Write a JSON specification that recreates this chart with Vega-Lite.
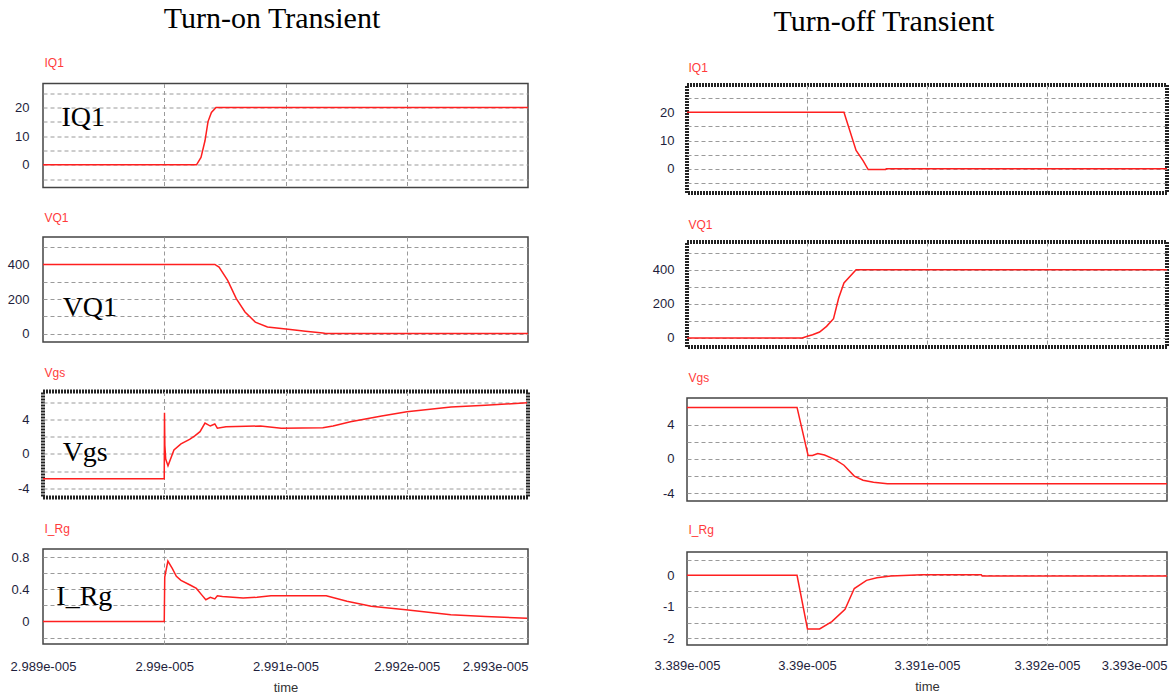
{
  "$schema": "https://vega.github.io/schema/vega-lite/v6.json",
  "background": "white",
  "padding": {"left": 6, "top": 4, "right": 2, "bottom": 0},
  "config": {
    "view": {"stroke": "#444", "strokeWidth": 1.5},
    "axis": {"labelFont": "Liberation Sans", "labelFontSize": 13, "labelColor": "#1e1e3c", "gridColor": "#9a9a9a", "gridDash": [4, 3], "gridWidth": 1, "ticks": false, "domain": false, "labelOverlap": false, "labelFlush": false},
    "axisX": {"titleFont": "Liberation Sans", "titleFontWeight": "normal", "titleFontSize": 13, "titleColor": "#333"},
    "axisY": {"titleFont": "Liberation Sans", "titleFontWeight": "normal", "titleFontSize": 12, "titleColor": "#ff3b3b", "titleAngle": 0, "titleAlign": "left", "titleBaseline": "alphabetic", "titleX": 1},
    "title": {"font": "Liberation Serif", "fontSize": 30, "color": "black", "anchor": "middle", "fontWeight": "normal", "frame": "group"},
    "line": {"color": "#ff1f1f", "strokeWidth": 1.5},
    "text": {"font": "Liberation Serif", "fontSize": 28, "align": "left", "baseline": "alphabetic", "color": "black"}
  },
  "datasets": {
    "on_iq1": [
      {"t": 2.989e-5, "v": 0}, {"t": 2.990266e-5, "v": 0}, {"t": 2.990303e-5, "v": 2.6}, {"t": 2.990336e-5, "v": 8.4},
      {"t": 2.990361e-5, "v": 15.1}, {"t": 2.990389e-5, "v": 18.3}, {"t": 2.990427e-5, "v": 20}, {"t": 2.993e-5, "v": 20}
    ],
    "on_vq1": [
      {"t": 2.989e-5, "v": 400}, {"t": 2.990417e-5, "v": 400}, {"t": 2.990452e-5, "v": 384}, {"t": 2.990523e-5, "v": 308},
      {"t": 2.990594e-5, "v": 202}, {"t": 2.990666e-5, "v": 125}, {"t": 2.990751e-5, "v": 67}, {"t": 2.990851e-5, "v": 39},
      {"t": 2.991022e-5, "v": 25}, {"t": 2.991165e-5, "v": 14}, {"t": 2.991308e-5, "v": 4}, {"t": 2.99133e-5, "v": 0.5},
      {"t": 2.993e-5, "v": 0.5}
    ],
    "on_vgs": [
      {"t": 2.989e-5, "v": -2.9}, {"t": 2.99e-5, "v": -2.9}, {"t": 2.990002e-5, "v": 4.8}, {"t": 2.990005e-5, "v": 1.0},
      {"t": 2.990012e-5, "v": -0.6}, {"t": 2.990031e-5, "v": -1.4}, {"t": 2.99008e-5, "v": 0.47}, {"t": 2.990138e-5, "v": 1.17},
      {"t": 2.990209e-5, "v": 1.7}, {"t": 2.990252e-5, "v": 2.1}, {"t": 2.990295e-5, "v": 2.6}, {"t": 2.990336e-5, "v": 3.6},
      {"t": 2.99038e-5, "v": 3.26}, {"t": 2.990417e-5, "v": 3.5}, {"t": 2.990438e-5, "v": 3.0}, {"t": 2.990509e-5, "v": 3.18},
      {"t": 2.990794e-5, "v": 3.26}, {"t": 2.990965e-5, "v": 3.0}, {"t": 2.991308e-5, "v": 3.07}, {"t": 2.991392e-5, "v": 3.26},
      {"t": 2.991536e-5, "v": 3.77}, {"t": 2.991793e-5, "v": 4.43}, {"t": 2.992001e-5, "v": 4.93}, {"t": 2.992365e-5, "v": 5.5},
      {"t": 2.992649e-5, "v": 5.7}, {"t": 2.992992e-5, "v": 5.98}
    ],
    "on_irg": [
      {"t": 2.989e-5, "v": 0}, {"t": 2.99e-5, "v": 0}, {"t": 2.990004e-5, "v": 0.55}, {"t": 2.99003e-5, "v": 0.75},
      {"t": 2.990066e-5, "v": 0.66}, {"t": 2.9901e-5, "v": 0.56}, {"t": 2.990138e-5, "v": 0.51}, {"t": 2.990209e-5, "v": 0.456},
      {"t": 2.990265e-5, "v": 0.41}, {"t": 2.990309e-5, "v": 0.33}, {"t": 2.990343e-5, "v": 0.27}, {"t": 2.99038e-5, "v": 0.30},
      {"t": 2.990417e-5, "v": 0.28}, {"t": 2.990438e-5, "v": 0.32}, {"t": 2.99048e-5, "v": 0.31}, {"t": 2.990651e-5, "v": 0.29},
      {"t": 2.990765e-5, "v": 0.30}, {"t": 2.99088e-5, "v": 0.32}, {"t": 2.991336e-5, "v": 0.32}, {"t": 2.991507e-5, "v": 0.25},
      {"t": 2.991707e-5, "v": 0.19}, {"t": 2.991992e-5, "v": 0.145}, {"t": 2.992363e-5, "v": 0.083}, {"t": 2.992649e-5, "v": 0.062},
      {"t": 2.992992e-5, "v": 0.04}
    ],
    "off_iq1": [
      {"t": 3.389e-5, "v": 20}, {"t": 3.390308e-5, "v": 20}, {"t": 3.390409e-5, "v": 6.5}, {"t": 3.390467e-5, "v": 2.9},
      {"t": 3.39051e-5, "v": -0.3}, {"t": 3.390655e-5, "v": -0.3}, {"t": 3.39066e-5, "v": 0}, {"t": 3.393e-5, "v": 0}
    ],
    "off_vq1": [
      {"t": 3.389e-5, "v": 0}, {"t": 3.38996e-5, "v": 0}, {"t": 3.390004e-5, "v": 10}, {"t": 3.390046e-5, "v": 19},
      {"t": 3.390105e-5, "v": 35}, {"t": 3.390163e-5, "v": 68}, {"t": 3.390221e-5, "v": 113}, {"t": 3.390264e-5, "v": 234},
      {"t": 3.390308e-5, "v": 322}, {"t": 3.390409e-5, "v": 400}, {"t": 3.393e-5, "v": 400}
    ],
    "off_vgs": [
      {"t": 3.389e-5, "v": 6.0}, {"t": 3.389917e-5, "v": 6.0}, {"t": 3.390009e-5, "v": 0.4}, {"t": 3.390046e-5, "v": 0.4},
      {"t": 3.39009e-5, "v": 0.63}, {"t": 3.390146e-5, "v": 0.45}, {"t": 3.390235e-5, "v": -0.07}, {"t": 3.390308e-5, "v": -0.73},
      {"t": 3.390394e-5, "v": -2.0}, {"t": 3.390467e-5, "v": -2.48}, {"t": 3.390554e-5, "v": -2.71}, {"t": 3.39067e-5, "v": -2.9},
      {"t": 3.393e-5, "v": -2.9}
    ],
    "off_irg": [
      {"t": 3.389e-5, "v": 0}, {"t": 3.389917e-5, "v": 0}, {"t": 3.390004e-5, "v": -1.70}, {"t": 3.390105e-5, "v": -1.70},
      {"t": 3.390207e-5, "v": -1.47}, {"t": 3.390317e-5, "v": -1.08}, {"t": 3.390394e-5, "v": -0.42}, {"t": 3.390496e-5, "v": -0.16},
      {"t": 3.390582e-5, "v": -0.08}, {"t": 3.390699e-5, "v": -0.02}, {"t": 3.390958e-5, "v": 0.02}, {"t": 3.391452e-5, "v": 0.02},
      {"t": 3.39146e-5, "v": -0.02}, {"t": 3.393e-5, "v": -0.02}
    ]
  },
  "hconcat": [
    {
      "spacing": 21.5,
      "vconcat": [
        {
          "title": {"text": "Turn-on Transient", "dx": -13.5, "offset": -13},
          "width": 485, "height": 0.5,
          "view": {"stroke": null},
          "data": {"values": []},
          "mark": "point",
          "encoding": {}
        },
        {
          "width": 485, "height": 104,
          "encoding": {
            "x": {"field": "t", "type": "quantitative", "scale": {"domain": [2.989e-5, 2.993e-5], "nice": false, "zero": false}, "axis": {"values": [2.99e-5, 2.991e-5, 2.992e-5], "labels": false, "title": null, "grid": true}},
            "y": {"field": "v", "type": "quantitative", "scale": {"domain": [-7.9, 28.4], "nice": false, "zero": false}, "axis": {"values": [-5, 0, 5, 10, 15, 20, 25], "labelExpr": "datum.value % 10 == 0 ? '' + datum.value : ''", "title": "IQ1", "titleY": -16.7, "grid": true, "labelPadding": 14}}
          },
          "layer": [
            {"data": {"name": "on_iq1"}, "mark": "line"},
            {"data": {"values": [{"t": 2.989152e-5, "v": 13.6, "label": "IQ1"}]}, "mark": "text", "encoding": {"text": {"field": "label"}}}
          ]
        },
        {
          "width": 485, "height": 105,
          "encoding": {
            "x": {"field": "t", "type": "quantitative", "scale": {"domain": [2.989e-5, 2.993e-5], "nice": false, "zero": false}, "axis": {"values": [2.99e-5, 2.991e-5, 2.992e-5], "labels": false, "title": null, "grid": true}},
            "y": {"field": "v", "type": "quantitative", "scale": {"domain": [-48, 558], "nice": false, "zero": false}, "axis": {"values": [0, 100, 200, 300, 400, 500], "labelExpr": "datum.value % 200 == 0 ? '' + datum.value : ''", "title": "VQ1", "titleY": -15.7, "grid": true, "labelPadding": 14}}
          },
          "layer": [
            {"data": {"name": "on_vq1"}, "mark": "line"},
            {"data": {"values": [{"t": 2.989162e-5, "v": 104, "label": "VQ1"}]}, "mark": "text", "encoding": {"text": {"field": "label"}}}
          ]
        },
        {
          "width": 485, "height": 106,
          "view": {"stroke": "#222", "strokeWidth": 4, "strokeDash": [2, 1]},
          "encoding": {
            "x": {"field": "t", "type": "quantitative", "scale": {"domain": [2.989e-5, 2.993e-5], "nice": false, "zero": false}, "axis": {"values": [2.99e-5, 2.991e-5, 2.992e-5], "labels": false, "title": null, "grid": true}},
            "y": {"field": "v", "type": "quantitative", "scale": {"domain": [-5.1, 7.3], "nice": false, "zero": false}, "axis": {"values": [-4, -2, 0, 2, 4, 6], "labelExpr": "datum.value % 4 == 0 ? '' + datum.value : ''", "title": "Vgs", "titleY": -15, "grid": true, "labelPadding": 14}}
          },
          "layer": [
            {"data": {"name": "on_vgs"}, "mark": "line"},
            {"data": {"values": [{"t": 2.989162e-5, "v": -0.8, "label": "Vgs"}]}, "mark": "text", "encoding": {"text": {"field": "label"}}}
          ]
        },
        {
          "width": 485, "height": 95,
          "encoding": {
            "x": {"field": "t", "type": "quantitative", "scale": {"domain": [2.989e-5, 2.993e-5], "nice": false, "zero": false},
                  "axis": {"values": [2.989e-5, 2.99e-5, 2.991e-5, 2.992e-5, 2.993e-5], "labelExpr": "replace(format(datum.value, '.4~e'), 'e-5', 'e-005')", "title": "time", "grid": true, "labelPadding": 16.5, "titlePadding": 8,
                           "labelAlign": {"condition": {"test": "datum.value > 2.9925e-5", "value": "right"}, "value": "center"},
                           "gridOpacity": {"condition": {"test": "datum.value < 2.9895e-5 || datum.value > 2.9925e-5", "value": 0}, "value": 1}}},
            "y": {"field": "v", "type": "quantitative", "scale": {"domain": [-0.28, 0.9], "nice": false, "zero": false}, "axis": {"values": [-0.2, 0, 0.2, 0.4, 0.6, 0.8], "labelExpr": "indexof([0, 0.4, 0.8], datum.value) >= 0 ? '' + datum.value : ''", "title": "I_Rg", "titleY": -16.7, "grid": true, "labelPadding": 14}}
          },
          "layer": [
            {"data": {"name": "on_irg"}, "mark": "line"},
            {"data": {"values": [{"t": 2.98911e-5, "v": 0.21, "label": "I_Rg"}]}, "mark": "text", "encoding": {"text": {"field": "label"}}}
          ]
        }
      ]
    },
    {
      "spacing": 21,
      "vconcat": [
        {
          "title": {"text": "Turn-off Transient", "dx": -43, "offset": -16},
          "width": 480, "height": 16.5,
          "view": {"stroke": null},
          "data": {"values": []},
          "mark": "point",
          "encoding": {}
        },
        {
          "width": 480, "height": 108,
          "view": {"stroke": "#222", "strokeWidth": 4, "strokeDash": [2, 1]},
          "data": {"name": "off_iq1"}, "mark": "line",
          "encoding": {
            "x": {"field": "t", "type": "quantitative", "scale": {"domain": [3.389e-5, 3.393e-5], "nice": false, "zero": false}, "axis": {"values": [3.39e-5, 3.391e-5, 3.392e-5], "labels": false, "title": null, "grid": true}},
            "y": {"field": "v", "type": "quantitative", "scale": {"domain": [-8.6, 29.7], "nice": false, "zero": false}, "axis": {"values": [-5, 0, 5, 10, 15, 20, 25], "labelExpr": "datum.value % 10 == 0 ? '' + datum.value : ''", "title": "IQ1", "titleY": -13.3, "grid": true, "labelPadding": 13}}
          }
        },
        {
          "width": 480, "height": 105,
          "view": {"stroke": "#222", "strokeWidth": 4, "strokeDash": [2, 1]},
          "data": {"name": "off_vq1"}, "mark": "line",
          "encoding": {
            "x": {"field": "t", "type": "quantitative", "scale": {"domain": [3.389e-5, 3.393e-5], "nice": false, "zero": false}, "axis": {"values": [3.39e-5, 3.391e-5, 3.392e-5], "labels": false, "title": null, "grid": true}},
            "y": {"field": "v", "type": "quantitative", "scale": {"domain": [-53, 562], "nice": false, "zero": false}, "axis": {"values": [0, 100, 200, 300, 400, 500], "labelExpr": "datum.value % 200 == 0 ? '' + datum.value : ''", "title": "VQ1", "titleY": -13.7, "grid": true, "labelPadding": 13}}
          }
        },
        {
          "width": 480, "height": 103,
          "data": {"name": "off_vgs"}, "mark": "line",
          "encoding": {
            "x": {"field": "t", "type": "quantitative", "scale": {"domain": [3.389e-5, 3.393e-5], "nice": false, "zero": false}, "axis": {"values": [3.39e-5, 3.391e-5, 3.392e-5], "labels": false, "title": null, "grid": true}},
            "y": {"field": "v", "type": "quantitative", "scale": {"domain": [-4.9, 7.1], "nice": false, "zero": false}, "axis": {"values": [-4, -2, 0, 2, 4, 6], "labelExpr": "datum.value % 4 == 0 ? '' + datum.value : ''", "title": "Vgs", "titleY": -16.4, "grid": true, "labelPadding": 13}}
          }
        },
        {
          "width": 480, "height": 93,
          "data": {"name": "off_irg"}, "mark": "line",
          "encoding": {
            "x": {"field": "t", "type": "quantitative", "scale": {"domain": [3.389e-5, 3.393e-5], "nice": false, "zero": false},
                  "axis": {"values": [3.389e-5, 3.39e-5, 3.391e-5, 3.392e-5, 3.393e-5], "labelExpr": "replace(format(datum.value, '.4~e'), 'e-5', 'e-005')", "title": "time", "grid": true, "labelPadding": 14, "titlePadding": 8,
                           "labelAlign": {"condition": {"test": "datum.value > 3.3925e-5", "value": "right"}, "value": "center"},
                           "gridOpacity": {"condition": {"test": "datum.value < 3.3895e-5 || datum.value > 3.3925e-5", "value": 0}, "value": 1}}},
            "y": {"field": "v", "type": "quantitative", "scale": {"domain": [-2.21, 0.74], "nice": false, "zero": false}, "axis": {"values": [-2, -1.5, -1, -0.5, 0, 0.5], "labelExpr": "datum.value % 1 == 0 ? '' + datum.value : ''", "title": "I_Rg", "titleY": -18.2, "grid": true, "labelPadding": 13}}
          }
        }
      ]
    }
  ],
  "spacing": 117
}
